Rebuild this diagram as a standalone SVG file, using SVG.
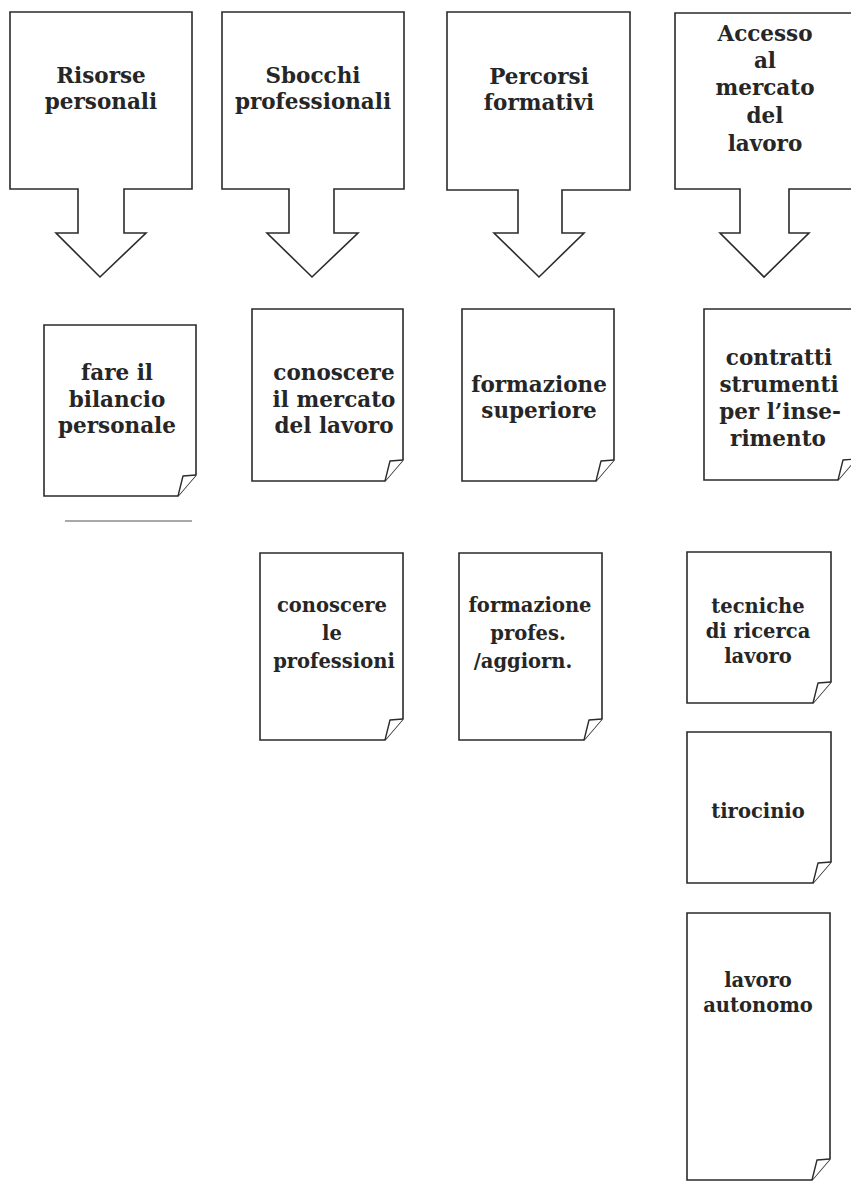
<svg xmlns="http://www.w3.org/2000/svg" width="851" height="1181" viewBox="0 0 851 1181">
<style>
.shape{fill:#fff;stroke:#2b2b2b;stroke-width:1.6;stroke-linejoin:miter}
.fold{fill:#fff;stroke:#2b2b2b;stroke-width:1.4;stroke-linejoin:round}
.t{font-family:"DejaVu Serif","Liberation Serif",serif;font-weight:bold;font-size:21.5px;fill:#262626;text-anchor:middle}
.s{font-size:19.5px}
</style>
<rect width="851" height="1181" fill="#fff"/>
<g id="arrow-risorse">
<path class="shape" d="M10,12 H192 V189 H124 V233 H146 L100,277 L56,233 H78 V189 H10 Z"/>
<text class="t" x="101" y="83">Risorse</text>
<text class="t" x="101" y="109">personali</text>
</g>
<g id="arrow-sbocchi">
<path class="shape" d="M222,12 H404 V189 H334 V233 H358 L312,277 L267,233 H289 V189 H222 Z"/>
<text class="t" x="313" y="83">Sbocchi</text>
<text class="t" x="313" y="109">professionali</text>
</g>
<g id="arrow-percorsi">
<path class="shape" d="M447,12 H630 V190 H562 V233 H584 L539,277 L494,233 H518 V190 H447 Z"/>
<text class="t" x="539" y="84">Percorsi</text>
<text class="t" x="539" y="110">formativi</text>
</g>
<g id="arrow-accesso">
<path class="shape" d="M675,13 H860 V189 H789 V233 H809 L764,277 L720,233 H740 V189 H675 Z"/>
<text class="t" x="765" y="41">Accesso</text>
<text class="t" x="765" y="68">al</text>
<text class="t" x="765" y="95">mercato</text>
<text class="t" x="765" y="123">del</text>
<text class="t" x="765" y="151">lavoro</text>
</g>
<g id="doc-bilancio">
<path class="shape" d="M44,325 H196 V475 L178,496 H44 Z"/>
<path class="fold" d="M196,475 L183,476 L178,496"/>
<text class="t" x="117" y="380">fare il</text>
<text class="t" x="117" y="407">bilancio</text>
<text class="t" x="117" y="433">personale</text>
</g>
<line x1="65" y1="521" x2="192" y2="521" stroke="#555" stroke-width="1.2"/>
<g id="doc-mercato">
<path class="shape" d="M252,309 H403 V460 L385,481 H252 Z"/>
<path class="fold" d="M403,460 L390,461 L385,481"/>
<text class="t" x="334" y="380">conoscere</text>
<text class="t" x="334" y="407">il mercato</text>
<text class="t" x="334" y="433">del lavoro</text>
</g>
<g id="doc-formazione-sup">
<path class="shape" d="M462,309 H614 V460 L596,481 H462 Z"/>
<path class="fold" d="M614,460 L601,461 L596,481"/>
<text class="t" x="539" y="392">formazione</text>
<text class="t" x="539" y="418">superiore</text>
</g>
<g id="doc-contratti">
<path class="shape" d="M704,309 H856 V459 L838,480 H704 Z"/>
<path class="fold" d="M856,459 L843,460 L838,480"/>
<text class="t" x="779" y="365">contratti</text>
<text class="t" x="779" y="392">strumenti</text>
<text class="t" x="780" y="419">per l’inse-</text>
<text class="t" x="778" y="446">rimento</text>
</g>
<g id="doc-professioni">
<path class="shape" d="M260,553 H403 V719 L385,740 H260 Z"/>
<path class="fold" d="M403,719 L390,720 L385,740"/>
<text class="t s" x="332" y="612">conoscere</text>
<text class="t s" x="332" y="640">le</text>
<text class="t s" x="334" y="668">professioni</text>
</g>
<g id="doc-formazione-prof">
<path class="shape" d="M459,553 H602 V719 L584,740 H459 Z"/>
<path class="fold" d="M602,719 L589,720 L584,740"/>
<text class="t s" x="530" y="612">formazione</text>
<text class="t s" x="528" y="640">profes.</text>
<text class="t s" x="523" y="668">/aggiorn.</text>
</g>
<g id="doc-tecniche">
<path class="shape" d="M687,552 H831 V682 L813,703 H687 Z"/>
<path class="fold" d="M831,682 L818,683 L813,703"/>
<text class="t s" x="758" y="613">tecniche</text>
<text class="t s" x="758" y="638">di ricerca</text>
<text class="t s" x="758" y="663">lavoro</text>
</g>
<g id="doc-tirocinio">
<path class="shape" d="M687,732 H831 V862 L813,883 H687 Z"/>
<path class="fold" d="M831,862 L818,863 L813,883"/>
<text class="t s" x="758" y="818">tirocinio</text>
</g>
<g id="doc-autonomo">
<path class="shape" d="M687,913 H830 V1159 L812,1180 H687 Z"/>
<path class="fold" d="M830,1159 L817,1160 L812,1180"/>
<text class="t s" x="758" y="987">lavoro</text>
<text class="t s" x="758" y="1012">autonomo</text>
</g>
<g id="connectors"></g>
</svg>
